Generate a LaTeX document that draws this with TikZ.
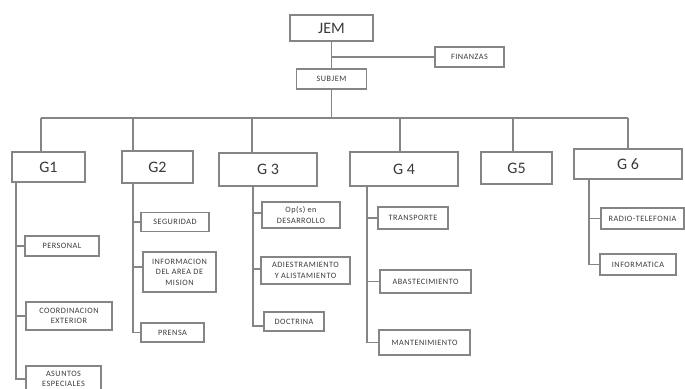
\documentclass[tikz,border=0pt]{standalone}
\usepackage{fontspec}
\setmainfont{Carlito}
\definecolor{boxgray}{HTML}{858585}
\definecolor{txtgray}{HTML}{3a3a3a}
\begin{document}
\begin{tikzpicture}[x=1pt,y=-1pt,
  box/.style={draw=boxgray, line width=1.1pt, fill=white, inner sep=0pt, align=center, text=txtgray,
    font=\fontsize{8.2}{10.5}\selectfont\addfontfeature{LetterSpace=6}},
  gbox/.style={box, font=\fontsize{16}{19}\selectfont},
  link/.style={draw=boxgray, line width=1.2pt}]
\fill[white] (0,0) rectangle (685,388);
\clip (0,0) rectangle (685,388);
% top
\node[gbox, minimum width=83, minimum height=26] (jem) at (331.5,28) {JEM};
\node[box, minimum width=69, minimum height=20] (fin) at (469.5,57) {FINANZAS};
\node[box, minimum width=70, minimum height=20] (sub) at (331.5,79) {SUBJEM};
% G boxes
\node[gbox, minimum width=73, minimum height=30] (g1) at (48.5,167) {G1};
\node[gbox, minimum width=71, minimum height=32] (g2) at (157.5,167) {G2};
\node[gbox, minimum width=98, minimum height=33] (g3) at (268,169.5) {G 3};
\node[gbox, minimum width=108, minimum height=34] (g4) at (404,169) {G 4};
\node[gbox, minimum width=71, minimum height=32] (g5) at (516.5,168) {G5};
\node[gbox, minimum width=108, minimum height=30] (g6) at (628,164) {G 6};
% bus coordinates
\coordinate (b1) at (41,118);
\coordinate (b2) at (133,118);
\coordinate (b3) at (252,118);
\coordinate (b4) at (400,118);
\coordinate (b5) at (513,118);
\coordinate (b6) at (628,118);
\draw[link] (jem.south) -- (jem.south |- sub.north);
\draw[link] (jem.south |- fin.west) -- (fin.west);
\draw[link] (sub.south) -- (sub.south |- b1);
\draw[link] (b1) -- (b6);
\draw[link] (b1) -- (b1 |- g1.north);
\draw[link] (b2) -- (b2 |- g2.north);
\draw[link] (b3) -- (b3 |- g3.north);
\draw[link] (b4) -- (b4 |- g4.north);
\draw[link] (b5) -- (b5 |- g5.north);
\draw[link] (b6) -- (b6 |- g6.north);
% G1 children
\node[box, minimum width=74, minimum height=20] (personal) at (62,246) {PERSONAL};
\node[box, minimum width=86, minimum height=28] (coord) at (69,316) {COORDINACION\\EXTERIOR};
\node[box, minimum width=75, minimum height=26] (asuntos) at (63.5,379) {ASUNTOS\\ESPECIALES};
\coordinate (t1) at (g1.south -| 16,0);
\draw[link] (t1) |- (personal.west);
\draw[link] (t1) |- (coord.west);
\draw[link] (t1) |- (asuntos.west);
% G2 children
\node[box, minimum width=68, minimum height=19] (seg) at (175,222) {SEGURIDAD};
\node[box, minimum width=73, minimum height=40] (info) at (179.5,272) {INFORMACION\\DEL AREA DE\\MISION};
\node[box, minimum width=63, minimum height=19] (prensa) at (172.5,332.5) {PRENSA};
\coordinate (t2) at (g2.south -| b2);
\draw[link] (t2) |- (seg.west);
\draw[link] (t2) |- ([yshift=5pt]info.west);
\draw[link] (t2) |- (prensa.west);
% G3 children
\node[box, minimum width=78, minimum height=26] (ops) at (301,215) {Op(s) en\\DESARROLLO};
\node[box, minimum width=89, minimum height=27] (adies) at (305.5,270.5) {ADIESTRAMIENTO\\Y ALISTAMIENTO};
\node[box, minimum width=60, minimum height=19] (doct) at (294,321.5) {DOCTRINA};
\coordinate (t3) at (g3.south -| 253,0);
\draw[link] (t3) |- ([yshift=2pt]ops.west);
\draw[link] (t3) |- ([yshift=1.5pt]adies.west);
\draw[link] (t3) |- ([yshift=-4.5pt]doct.west);
% G4 children
\node[box, minimum width=70, minimum height=22] (trans) at (413,218) {TRANSPORTE};
\node[box, minimum width=91, minimum height=23] (abast) at (425.5,281.5) {ABASTECIMIENTO};
\node[box, minimum width=91, minimum height=25] (mant) at (424.5,342.5) {MANTENIMIENTO};
\coordinate (t4) at (g4.south -| 367,0);
\draw[link] (t4) |- (trans.west);
\draw[link] (t4) |- (abast.west);
\draw[link] (t4) |- (mant.west);
% G6 children
\node[box, minimum width=83, minimum height=21] (radio) at (642.5,218.5) {RADIO-TELEFONIA};
\node[box, minimum width=76, minimum height=21] (inform) at (638,264.5) {INFORMATICA};
\coordinate (t6) at (g6.south -| 589,0);
\draw[link] (t6) |- (radio.west);
\draw[link] (t6) |- (inform.west);
\end{tikzpicture}
\end{document}
